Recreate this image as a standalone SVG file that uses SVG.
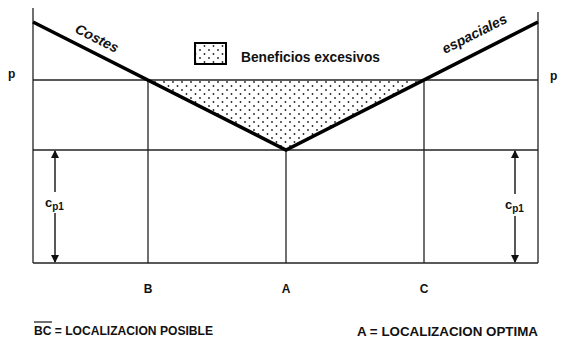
<svg xmlns="http://www.w3.org/2000/svg" width="562" height="339" viewBox="0 0 562 339">
<style>
text{font-family:"Liberation Sans",Arial,sans-serif;fill:#111;font-weight:bold}
.thin{stroke:#222;stroke-width:1.3;fill:none}
.thick{stroke:#000;stroke-width:3.5;fill:none;stroke-linejoin:miter}
.lbl{font-size:12px}
.arr{stroke:#111;stroke-width:1.4;marker-end:url(#ah)}
</style>
<defs>
<pattern id="dots" x="0" y="0" width="9" height="8" patternUnits="userSpaceOnUse">
<circle cx="2" cy="2" r="0.9" fill="#222"/>
<circle cx="6.5" cy="6" r="0.9" fill="#222"/>
</pattern>
<marker id="ah" markerWidth="8" markerHeight="10" refX="7" refY="4" orient="auto" markerUnits="userSpaceOnUse">
<path d="M0,0 L8,4 L0,8 Z" fill="#111"/>
</marker>
</defs>
<g id="frame">
<line class="thin" x1="33" y1="8" x2="33" y2="263"/>
<line class="thin" x1="538" y1="12" x2="538" y2="263"/>
<line class="thin" x1="33" y1="80" x2="538" y2="80"/>
<line class="thin" x1="33" y1="150" x2="538" y2="150"/>
<line class="thin" x1="33" y1="263" x2="538" y2="263"/>
<line class="thin" x1="148" y1="80" x2="148" y2="263"/>
<line class="thin" x1="286" y1="150" x2="286" y2="263"/>
<line class="thin" x1="424" y1="80" x2="424" y2="263"/>
</g>
<g id="beneficios">
<polygon points="148,80 424,80 286,150" fill="url(#dots)"/>
</g>
<g id="costes">
<polyline class="thick" points="33,22 286,150 538,22"/>
<text font-size="14" font-style="italic" transform="translate(74,32) rotate(26.8)">Costes</text>
<text font-size="14" font-style="italic" transform="translate(445,54) rotate(-26.8)">espaciales</text>
</g>
<g id="legend">
<rect x="195" y="43" width="31" height="21" fill="url(#dots)" stroke="#000" stroke-width="2"/>
<text x="241" y="62" font-size="14" textLength="139" lengthAdjust="spacingAndGlyphs">Beneficios excesivos</text>
</g>
<g id="axis-labels">
<text class="lbl" x="8" y="78" font-weight="normal">p</text>
<text class="lbl" x="550" y="80" font-weight="normal">p</text>
<text class="lbl" x="148" y="293" text-anchor="middle">B</text>
<text class="lbl" x="286" y="293" text-anchor="middle">A</text>
<text class="lbl" x="424" y="293" text-anchor="middle">C</text>
</g>
<g id="connectors">
<line class="arr" x1="55" y1="192" x2="55" y2="151"/>
<line class="arr" x1="55" y1="213" x2="55" y2="262"/>
<line class="arr" x1="515" y1="194" x2="515" y2="151"/>
<line class="arr" x1="515" y1="216" x2="515" y2="262"/>
</g>
<g id="cp1">
<text x="45" y="207" font-size="13">c<tspan font-size="10" dy="3">p1</tspan></text>
<text x="505" y="209" font-size="13">c<tspan font-size="10" dy="3">p1</tspan></text>
</g>
<g id="footer">
<text x="34" y="335" font-size="12" textLength="179" lengthAdjust="spacingAndGlyphs">BC = LOCALIZACION POSIBLE</text>
<line x1="34" y1="322" x2="52" y2="322" stroke="#111" stroke-width="1.2"/>
<text x="357" y="336" font-size="12" textLength="181" lengthAdjust="spacingAndGlyphs">A = LOCALIZACION OPTIMA</text>
</g>
</svg>
